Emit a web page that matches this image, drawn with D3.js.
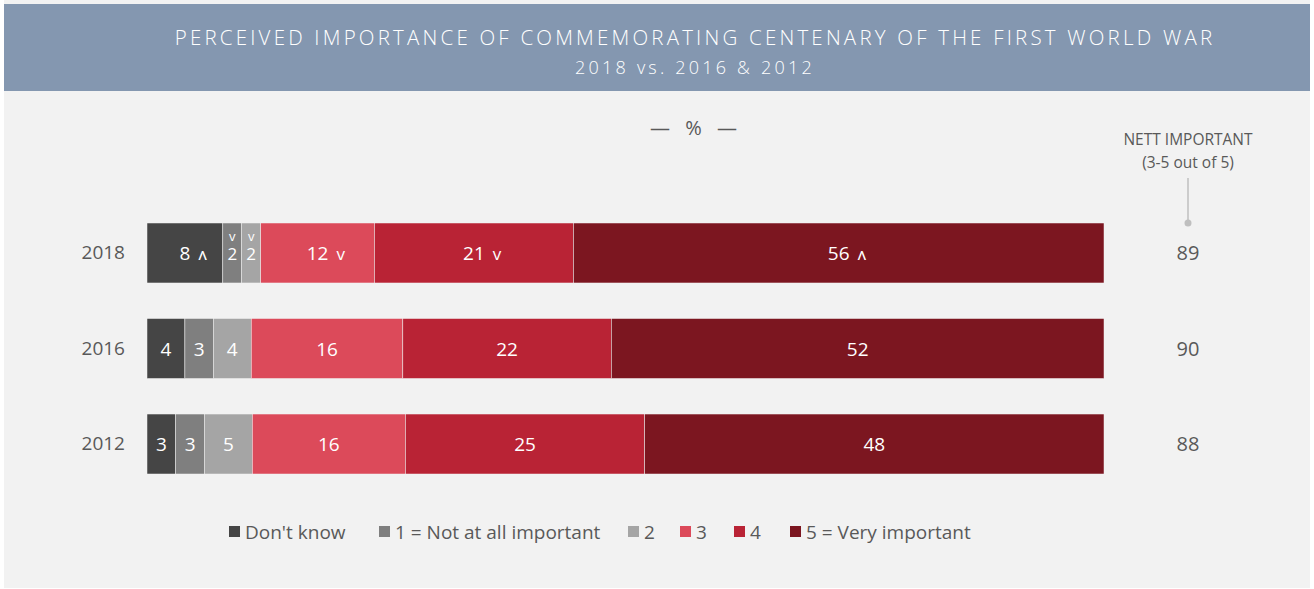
<!DOCTYPE html>
<html>
<head>
<meta charset="utf-8">
<script src="https://cdn.jsdelivr.net/npm/d3@7"></script>
<style>
  html, body { margin: 0; padding: 0; background: #ffffff; }
  svg { display: block; font-family: "Open Sans", "Lato", sans-serif; }
</style>
</head>
<body>
<svg id="chart" width="1314" height="589"></svg>
<script>
// Survey years, top to bottom
const years = ["2018", "2016", "2012"];
// Response categories, left to right
const categories = ["Don't know", "1 = Not at all important", "2", "3", "4", "5 = Very important"];
// Shares (%) per year, in category order
const values2018 = [8, 2, 2, 12, 21, 56];
const values2016 = [4, 3, 4, 16, 22, 52];
const values2012 = [3, 3, 5, 16, 25, 48];
// Significant change markers for 2018 ("up" / "down" / none)
const change2018 = ["up", "down", "down", "down", "down", "up"];
// Nett important (3-5 out of 5)
const nettImportant = [89, 90, 88];

const colors = ["#454545", "#7f7f7f", "#a5a5a5", "#dc4a5a", "#b92335", "#7c1620"];

const rows = [
  { year: years[0], values: values2018, change: change2018, nett: nettImportant[0] },
  { year: years[1], values: values2016, change: null, nett: nettImportant[1] },
  { year: years[2], values: values2012, change: null, nett: nettImportant[2] }
];

const svg = d3.select("#chart");
const textGrey = "#595959";

// Panel and header band
svg.append("rect").attr("x", 4).attr("y", 0).attr("width", 1306).attr("height", 588).attr("fill", "#f2f2f2");
svg.append("rect").attr("x", 4).attr("y", 4).attr("width", 1306).attr("height", 87).attr("fill", "#8497b0");

svg.append("text")
  .attr("x", 695).attr("y", 45)
  .attr("text-anchor", "middle")
  .attr("fill", "#ffffff")
  .style("font-size", "20.5px")
  .style("letter-spacing", "3.2px")
  .style("font-weight", 300)
  .text("PERCEIVED IMPORTANCE OF COMMEMORATING CENTENARY OF THE FIRST WORLD WAR");

svg.append("text")
  .attr("x", 695).attr("y", 74)
  .attr("text-anchor", "middle")
  .attr("fill", "#ffffff")
  .style("font-size", "18px")
  .style("letter-spacing", "3.2px")
  .style("font-weight", 300)
  .text("2018 vs. 2016 & 2012");

svg.append("text")
  .attr("x", 696).attr("y", 135)
  .attr("text-anchor", "middle")
  .attr("fill", textGrey)
  .style("font-size", "20px")
  .style("letter-spacing", "5px")
  .style("white-space", "pre")
  .text("— % —");

// Nett important header with leader line
const nettX = 1188;
svg.append("text")
  .attr("x", nettX).attr("y", 145)
  .attr("text-anchor", "middle")
  .attr("fill", textGrey)
  .style("font-size", "15.5px")
  .text("NETT IMPORTANT");
svg.append("text")
  .attr("x", nettX).attr("y", 168)
  .attr("text-anchor", "middle")
  .attr("fill", textGrey)
  .style("font-size", "15.5px")
  .text("(3-5 out of 5)");
svg.append("line")
  .attr("x1", nettX).attr("x2", nettX)
  .attr("y1", 178).attr("y2", 222)
  .attr("stroke", "#bfbfbf").attr("stroke-width", 1.5);
svg.append("circle")
  .attr("cx", nettX).attr("cy", 223).attr("r", 3.5)
  .attr("fill", "#bfbfbf");

// Row layout
const y = d3.scaleBand()
  .domain(years)
  .range([223, 474])
  .paddingInner(0.372)
  .paddingOuter(0);

const barLeft = 147, barRight = 1104;

rows.forEach(row => {
  const total = d3.sum(row.values);
  const x = d3.scaleLinear().domain([0, total]).range([barLeft, barRight]);
  const starts = d3.cumsum([0, ...row.values]);
  const segs = row.values.map((v, i) => ({ v, i, x0: starts[i], x1: starts[i] + v }));
  const y0 = y(row.year);
  const bh = y.bandwidth();
  const cy = y0 + bh / 2;

  const g = svg.append("g");

  g.selectAll("rect").data(segs).join("rect")
    .attr("x", d => x(d.x0))
    .attr("y", y0)
    .attr("width", d => x(d.x1) - x(d.x0))
    .attr("height", bh)
    .attr("fill", d => colors[d.i])
    .attr("stroke", "#f2f2f2")
    .attr("stroke-width", 0.5);

  segs.forEach(d => {
    const cx = (x(d.x0) + x(d.x1)) / 2;
    const w = x(d.x1) - x(d.x0);
    const ch = row.change ? row.change[d.i] : null;
    const arrow = ch === "up" ? "\u028C" : (ch === "down" ? "v" : "");
    if (arrow && w < 30) {
      // narrow segment: marker stacked above value
      g.append("text")
        .attr("x", cx).attr("y", cy - 12)
        .attr("text-anchor", "middle")
        .attr("fill", "#ffffff")
        .style("font-size", "13px")
        .text(arrow);
      g.append("text")
        .attr("x", cx).attr("y", cy + 7)
        .attr("text-anchor", "middle")
        .attr("fill", "#ffffff")
        .style("font-size", "17px")
        .text(d.v);
    } else {
      const t = g.append("text")
        .attr("x", cx).attr("y", cy + 7)
        .attr("text-anchor", "middle")
        .attr("fill", "#ffffff")
        .style("font-size", "19px")
        .text(d.v);
      if (arrow) {
        const tw = t.node().getComputedTextLength();
        g.append("text")
          .attr("x", cx + tw / 2 + 8).attr("y", cy + 7)
          .attr("fill", "#ffffff")
          .style("font-size", "17px")
          .text(arrow);
      }
    }
  });

  svg.append("text")
    .attr("x", 125).attr("y", cy + 6)
    .attr("text-anchor", "end")
    .attr("fill", textGrey)
    .style("font-size", "19px")
    .text(row.year);

  svg.append("text")
    .attr("x", nettX).attr("y", cy + 7)
    .attr("text-anchor", "middle")
    .attr("fill", textGrey)
    .style("font-size", "20px")
    .text(row.nett);
});

// Legend
const legendX = [229, 379, 628, 680, 734, 790];
const lg = svg.append("g");
categories.forEach((c, i) => {
  lg.append("rect")
    .attr("x", legendX[i]).attr("y", 526)
    .attr("width", 11).attr("height", 11)
    .attr("fill", colors[i]);
  lg.append("text")
    .attr("x", legendX[i] + 16).attr("y", 539)
    .attr("fill", textGrey)
    .style("font-size", "19px")
    .text(c);
});
</script>
</body>
</html>
